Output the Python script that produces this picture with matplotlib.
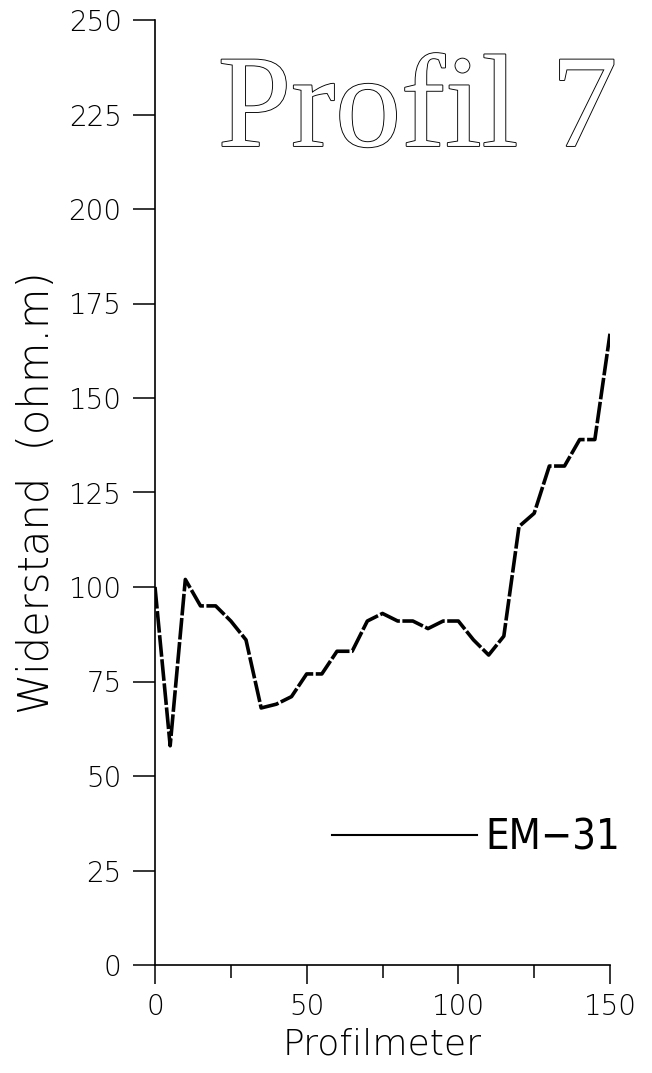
import matplotlib
matplotlib.use("Agg")
import matplotlib.pyplot as plt
from matplotlib.lines import Line2D
import matplotlib.patheffects as pe

# ---- data ----
profilmeter = [0, 5, 10, 15, 20, 25, 30, 35, 40, 45, 50, 55, 60, 65, 70, 75,
               80, 85, 90, 95, 100, 105, 110, 115, 120, 125, 130, 135, 140, 145, 150]
widerstand = [100, 58, 102, 95, 95, 91, 86, 68, 69, 71, 77, 77, 83, 83, 91, 93,
              91, 91, 89, 91, 91, 86, 82, 87, 116, 119.5, 132, 132, 139, 139, 167]
x_major = [0, 50, 100, 150]
x_minor = [25, 75, 125]
y_ticks = [0, 25, 50, 75, 100, 125, 150, 175, 200, 225, 250]
title = "Profil 7"
xlabel = "Profilmeter"
ylabel = "Widerstand  (ohm.m)"
series_name = "EM\u221231"

plt.rcParams['font.family'] = ['DejaVu Sans']

fig = plt.figure(figsize=(6.52, 10.73), dpi=100)
ax = fig.add_axes([155/652, 1 - 965/1073, 455/652, 945/1073])

ax.plot(profilmeter, widerstand, color='black', lw=2.6, dashes=(6, 0.7),
        solid_capstyle='butt', dash_capstyle='butt')

ax.set_xlim(0, 150)
ax.set_ylim(0, 250)
for s in ['top', 'right']:
    ax.spines[s].set_visible(False)
for s in ['left', 'bottom']:
    ax.spines[s].set_linewidth(1.2)
    ax.spines[s].set_color('black')

ax.set_xticks(x_major)
ax.set_xticks(x_minor, minor=True)
ax.set_yticks(y_ticks)
ax.tick_params(axis='x', which='major', direction='out', length=14, width=1.1,
               pad=6, labelsize=20)
ax.tick_params(axis='x', which='minor', direction='out', length=9.5, width=1.1)
ax.tick_params(axis='y', which='major', direction='out', length=16, width=1.1,
               pad=8, labelsize=20)
for lab in ax.get_xticklabels() + ax.get_yticklabels():
    lab.set_fontweight('light')

ax.set_xlabel(xlabel, fontsize=26, fontweight='light')
ax.set_ylabel(ylabel, fontsize=30, fontweight='light')
ax.xaxis.set_label_coords(0.5, -0.066)
ax.yaxis.set_label_coords(-0.215, 0.5)

ax.text(0.138, 0.8667, title, transform=ax.transAxes, fontfamily='Liberation Serif',
        fontsize=95, va='baseline', ha='left', color='white',
        path_effects=[pe.withStroke(linewidth=1.3, foreground='black')])

handle = Line2D([], [], color='black', lw=1.5)
ax.legend([handle], [series_name], loc='center left', bbox_to_anchor=(0.389, 0.135),
          frameon=False, borderpad=0, borderaxespad=0, handlelength=3.48,
          handletextpad=0.19,
          prop={'family': 'DejaVu Sans', 'size': 30, 'stretch': 'condensed',
                'weight': 'light'})

fig.savefig("out.png", dpi=100, facecolor='white')
